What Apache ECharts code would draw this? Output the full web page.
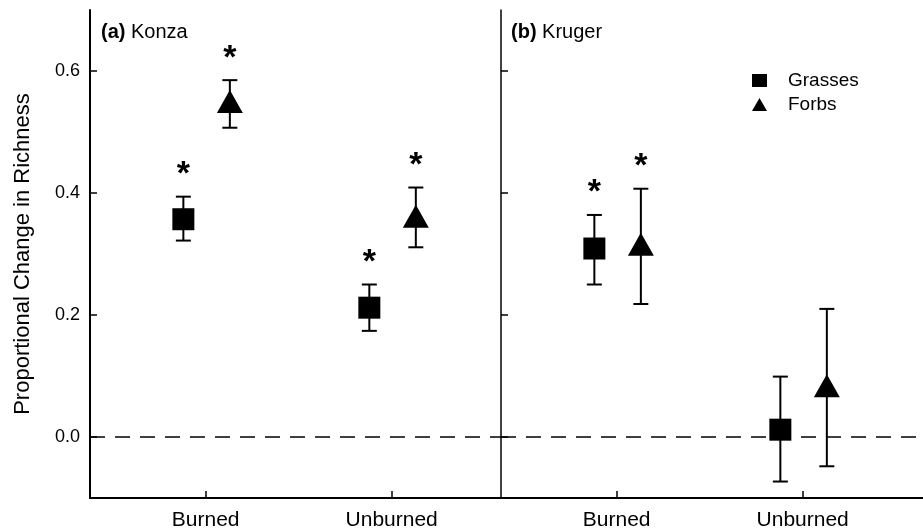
<!DOCTYPE html>
<html>
<head>
<meta charset="utf-8">
<script src="https://cdn.jsdelivr.net/npm/echarts@6/dist/echarts.min.js"></script>
<style>
    html, body { margin: 0; padding: 0; background: #fff; }
    #main { width: 923px; height: 531px; }
</style>
</head>
<body>
<div id="main"></div>
<script>
    // treatments on the x axis
    let categories = ['Burned', 'Unburned']
    let yTicks = [0, 0.2, 0.4, 0.6]

    // (a) Konza
    let konzaGrassMean = [0.357, 0.212]
    let konzaGrassLow = [0.322, 0.174]
    let konzaGrassHigh = [0.394, 0.250]
    let konzaGrassSig = [true, true]
    let konzaForbMean = [0.550, 0.362]
    let konzaForbLow = [0.507, 0.311]
    let konzaForbHigh = [0.585, 0.409]
    let konzaForbSig = [true, true]

    // (b) Kruger
    let krugerGrassMean = [0.309, 0.012]
    let krugerGrassLow = [0.250, -0.073]
    let krugerGrassHigh = [0.364, 0.099]
    let krugerGrassSig = [true, false]
    let krugerForbMean = [0.316, 0.084]
    let krugerForbLow = [0.218, -0.048]
    let krugerForbHigh = [0.407, 0.210]
    let krugerForbSig = [true, false]

    const font = 'Liberation Sans, Arial, sans-serif'
    const grassShift = -0.12
    const forbShift = 0.13

    function points(mean, shift) {
        return mean.map((v, i) => [i + 1 + shift, v])
    }
    function bars(low, high, sig, shift) {
        return low.map((v, i) => [i + 1 + shift, v, high[i], sig[i] ? 1 : 0])
    }

    function errorBars(params, api) {
        let x = api.value(0)
        let lo = api.coord([x, api.value(1)])
        let hi = api.coord([x, api.value(2)])
        let cap = 7.5
        let style = { stroke: '#000', lineWidth: 2 }
        let children = [
            { type: 'line', shape: { x1: lo[0], y1: lo[1], x2: hi[0], y2: hi[1] }, style },
            { type: 'line', shape: { x1: hi[0] - cap, y1: hi[1], x2: hi[0] + cap, y2: hi[1] }, style },
            { type: 'line', shape: { x1: lo[0] - cap, y1: lo[1], x2: lo[0] + cap, y2: lo[1] }, style }
        ]
        if (api.value(3)) {
            children.push({
                type: 'text',
                style: {
                    text: '*', x: hi[0], y: hi[1] - 22,
                    align: 'center', verticalAlign: 'middle',
                    font: 'bold 34px ' + font, fill: '#000'
                }
            })
        }
        return { type: 'group', children }
    }

    function yAxis(gridIndex, withLabels) {
        return {
            gridIndex, type: 'value', min: -0.1, max: 0.7,
            axisLine: { show: true, onZero: false, lineStyle: { color: '#000', width: withLabels ? 2 : 1.5 } },
            axisTick: { show: true, inside: true, length: 7, customValues: yTicks, lineStyle: { color: '#000', width: 1.5 } },
            axisLabel: {
                show: withLabels, customValues: yTicks, formatter: v => v.toFixed(1),
                fontSize: 18, color: '#000', margin: 10, fontFamily: font
            },
            splitLine: { show: false },
            name: withLabels ? 'Proportional Change in Richness' : '',
            nameLocation: 'middle', nameGap: 56,
            nameTextStyle: { fontSize: 22, color: '#000', fontFamily: font, padding: [0, 0, 0, 0] }
        }
    }

    function xAxis(gridIndex, max) {
        return {
            gridIndex, type: 'value', min: 0.378, max,
            axisLine: { show: true, onZero: false, lineStyle: { color: '#000', width: 2 } },
            axisTick: { show: true, inside: true, length: 7, customValues: [1, 2], lineStyle: { color: '#000', width: 1.5 } },
            axisLabel: {
                customValues: [1, 2], formatter: v => categories[Math.round(v) - 1],
                fontSize: 21, color: '#000', margin: 12, fontFamily: font
            },
            splitLine: { show: false }
        }
    }

    let zeroLine = {
        silent: true, symbol: 'none', animation: false,
        label: { show: false },
        lineStyle: { type: [15, 10], color: '#000', width: 1.5 },
        data: [{ yAxis: 0 }]
    }

    function panelSeries(idx, gMean, gLow, gHigh, gSig, fMean, fLow, fHigh, fSig) {
        return [{
            type: 'custom', xAxisIndex: idx, yAxisIndex: idx, z: 2,
            renderItem: errorBars, data: bars(gLow, gHigh, gSig, grassShift),
            markLine: zeroLine
        }, {
            type: 'custom', xAxisIndex: idx, yAxisIndex: idx, z: 2,
            renderItem: errorBars, data: bars(fLow, fHigh, fSig, forbShift)
        }, {
            name: 'Grasses', type: 'scatter', xAxisIndex: idx, yAxisIndex: idx, z: 3,
            symbol: 'rect', symbolSize: 22, itemStyle: { color: '#000', opacity: 1 },
            data: points(gMean, grassShift)
        }, {
            name: 'Forbs', type: 'scatter', xAxisIndex: idx, yAxisIndex: idx, z: 3,
            symbol: 'triangle', symbolSize: [26, 23], itemStyle: { color: '#000', opacity: 1 },
            data: points(fMean, forbShift)
        }]
    }

    let option = {
        animation: false,
        backgroundColor: '#fff',
        title: [{
            text: '{b|(a)} Konza', left: 96, top: 17,
            textStyle: { fontSize: 20, fontWeight: 'normal', color: '#000', fontFamily: font,
                rich: { b: { fontSize: 20, fontWeight: 'bold', color: '#000', fontFamily: font } } }
        }, {
            text: '{b|(b)} Kruger', left: 506, top: 17,
            textStyle: { fontSize: 20, fontWeight: 'normal', color: '#000', fontFamily: font,
                rich: { b: { fontSize: 20, fontWeight: 'bold', color: '#000', fontFamily: font } } }
        }],
        legend: {
            orient: 'vertical', left: 747, top: 66, itemGap: 5,
            itemWidth: 15, itemHeight: 13, selectedMode: false,
            data: [{ name: 'Grasses', icon: 'rect' }, { name: 'Forbs', icon: 'triangle' }],
            textStyle: { fontSize: 19, color: '#000', fontFamily: font, padding: [0, 0, 0, 16] }
        },
        grid: [
            { left: 90, top: 10, width: 411, height: 488 },
            { left: 501, top: 10, width: 422, height: 488 }
        ],
        xAxis: [xAxis(0, 2.588), xAxis(1, 2.647)],
        yAxis: [yAxis(0, true), yAxis(1, false)],
        series: [
            ...panelSeries(0, konzaGrassMean, konzaGrassLow, konzaGrassHigh, konzaGrassSig,
                konzaForbMean, konzaForbLow, konzaForbHigh, konzaForbSig),
            ...panelSeries(1, krugerGrassMean, krugerGrassLow, krugerGrassHigh, krugerGrassSig,
                krugerForbMean, krugerForbLow, krugerForbHigh, krugerForbSig)
        ]
    }

    let chart = echarts.init(document.getElementById('main'))
    chart.setOption(option)
</script>
</body>
</html>
